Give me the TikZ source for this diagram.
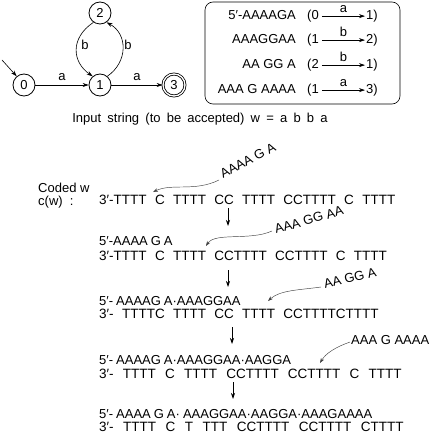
\documentclass[tikz,border=0pt]{standalone}
\usepackage{fontspec}
\setmainfont{Liberation Sans}
\usetikzlibrary{arrows.meta}
\newcommand\dnafont[1]{\fontsize{13.5}{15}\selectfont\spaceskip #1\relax}
\newcommand\fivefont[1]{\fontsize{13}{15}\selectfont\spaceskip #1\relax}
\begin{document}
\begin{tikzpicture}[x=1pt,y=1pt,
  every node/.style={font=\fontsize{13}{15}\selectfont, inner sep=0pt},
  state/.style={draw, circle, minimum size=22pt, line width=0.8pt},
  accst/.style={state, double, double distance=1.3pt},
  tr/.style={-{Stealth[length=6pt,width=4pt]}, line width=0.6pt},
  dna/.style={anchor=base west, font={\dnafont{8.3pt}}},
  five/.style={anchor=base west, font={\fivefont{3pt}}},
  probe/.style={anchor=base west, font=\fontsize{13}{15}\selectfont},
  hook/.style={-{Stealth[length=5pt,width=3.5pt]}, line width=0.45pt, draw=black!75},
  down/.style={-{Stealth[length=6pt,width=4pt]}, line width=0.7pt}]
\useasboundingbox (0,0) rectangle (430,-433);
% automaton
\node[state] (n0) at (24,-85) {0};
\node[state] (n1) at (100,-85) {1};
\node[state] (n2) at (100,-13) {2};
\node[accst] (n3) at (174,-85) {3};
\coordinate (init) at (2,-60);
\draw[tr] (init) -- (n0.130);
\draw[tr] (n0) -- node[above=4pt]{a} (n1);
\draw[tr] (n1) -- node[above=4pt]{a} (n3);
\draw[tr] (n2.235) .. controls (70,-38) and (72,-62) .. (n1.130);
\draw[tr] (n1.50) .. controls (128,-62) and (128,-34) .. (n2.-55);
\node at (85,-45) {b};
\node at (128,-45) {b};
% box
\node[draw, rounded corners=8pt, line width=0.6pt, minimum width=195pt, minimum height=102pt] (box) at (302.5,-53) {};
\foreach \i/\s/\p/\l/\q/\yy in {1/{5′-AAAAGA}/0/a/1/-19.5, 2/{AAAGGAA}/1/b/2/-43.5, 3/{AA GG A}/2/b/1/-68.5, 4/{AAA G AAAA}/1/a/3/-93.5}{
  \node[anchor=base east] (s\i) at (296,\yy) {\s};
  \node[anchor=base west] (p\i) at (307,\yy) {(\p};
  \node[anchor=base west] (q\i) at (366,\yy) {\q)};
  \draw[tr] ([xshift=3pt]p\i.east) -- node[above=3pt]{\l} ([xshift=-1pt]q\i.west);
}
\node[font={\fontsize{13}{15}\selectfont\spaceskip 6.2pt\relax}] (inp) at (200,-119) {Input string (to be accepted) w = a b b a};
% coded
\node[anchor=base west] (cw1) at (38,-192) {Coded w};
\node[anchor=base west] (cw2) at (38,-205) {c(w)\ \ :};
\node[dna] (l1) at (99,-204) {3′-TTTT C TTTT CC TTTT CCTTTT C TTTT};
\node[probe, rotate=28] (pr1) at (223,-179) {AAAA G A};
\coordinate (t1) at (153,-192);
\draw[hook] (219,-180) coordinate (h1) .. controls (195,-192) and (172,-183) .. (t1);
\coordinate (d1a) at (228,-208); \coordinate (d1b) at (228,-226);
\draw[down] (d1a) -- (d1b);
% step 2
\node[five] (l2a) at (99,-245) {5′-AAAA G A};
\node[dna] (l2b) at (99,-260) {3′-TTTT C TTTT CCTTTT CCTTTT C TTTT};
\node[probe, rotate=16] (pr2) at (276,-234) {AAA GG AA};
\coordinate (t2) at (206,-246);
\draw[hook] (272,-231) coordinate (h2) .. controls (250,-241) and (215,-232) .. (t2);
\coordinate (d2a) at (228,-270); \coordinate (d2b) at (228,-287);
\draw[down] (d2a) -- (d2b);
% step 3
\node[five] (l3a) at (99,-305) {5′- AAAAG A·AAAGGAA};
\node[dna] (l3b) at (99,-318) {3′- TTTTC TTTT CC TTTT CCTTTTCTTTT};
\node[probe, rotate=14] (pr3) at (325,-289) {AA GG A};
\coordinate (t3) at (268,-301);
\draw[hook] (321,-287) coordinate (h3) .. controls (300,-290) and (280,-290) .. (t3);
\coordinate (d3a) at (232,-327); \coordinate (d3b) at (232,-344);
\draw[down] (d3a) -- (d3b);
% step 4
\node[five] (l4a) at (99,-364) {5′- AAAAG A·AAAGGAA·AAGGA};
\node[dna, font={\dnafont{9.2pt}}] (l4b) at (99,-378) {3′- TTTT C TTTT CCTTTT CCTTTT C TTTT};
\node[probe] (pr4) at (351,-344) {AAA G AAAA};
\coordinate (t4) at (320,-363);
\draw[hook] (350,-342) coordinate (h4) .. controls (336,-347) and (326,-353) .. (t4);
\coordinate (d4a) at (233,-382); \coordinate (d4b) at (233,-399);
\draw[down] (d4a) -- (d4b);
% step 5
\node[five] (l5a) at (99,-418) {5′- AAAA G A· AAAGGAA·AAGGA·AAAGAAAA};
\node[dna, font={\dnafont{9.5pt}}] (l5b) at (99,-431) {3′- TTTT C T TTT CCTTTT CCTTTT CTTTT};
\end{tikzpicture}
\end{document}
